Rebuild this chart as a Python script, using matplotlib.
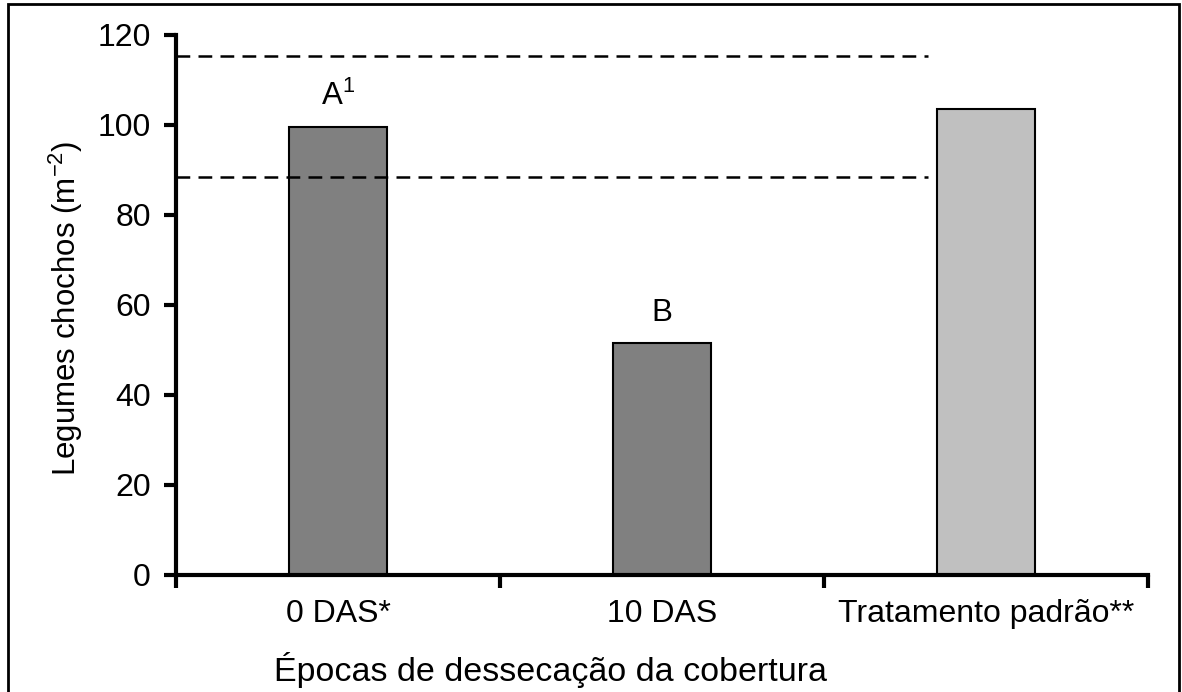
import matplotlib
matplotlib.use('Agg')
import matplotlib.pyplot as plt
from matplotlib.patches import Rectangle

plt.rcParams['font.family'] = ['Liberation Sans', 'DejaVu Sans']
plt.rcParams['mathtext.fontset'] = 'custom'
plt.rcParams['mathtext.rm'] = 'Liberation Sans'
plt.rcParams['mathtext.default'] = 'regular'

categorias = ['0 DAS*', '10 DAS', 'Tratamento padrão**']
valores = [99.6, 51.6, 103.6]
cores = ['#808080', '#808080', '#c0c0c0']
letras = ['A$^1$', 'B', '']
limite_sup = 115.3
limite_inf = 88.5

fig = plt.figure(figsize=(11.82, 6.92), dpi=100)
ax = fig.add_axes([176 / 1182, 117 / 692, 972 / 1182, 540 / 692])

x = list(range(len(categorias)))
ax.bar(x, valores, width=0.3, color=cores, edgecolor='black', linewidth=1.5, zorder=2)

# linhas tracejadas (intervalo de referencia)
ax.hlines([limite_sup, limite_inf], -0.5, 1.82, colors='black', linestyles=(0, (5.5, 3.3)),
          linewidth=1.8, zorder=3)

for xi, v, t in zip(x, valores, letras):
    if t:
        ax.text(xi, v + 4.9, t, ha='center', va='baseline', fontsize=22.5)

ax.set_xlim(-0.5, 2.5)
ax.set_ylim(0, 120)
ax.set_yticks(range(0, 121, 20))
ax.set_xticks([-0.5, 0.5, 1.5, 2.5])
ax.set_xticklabels([])
ax.set_xticks(x, minor=True)
ax.set_xticklabels(categorias, minor=True, fontsize=23)
ax.tick_params(axis='x', which='minor', length=0, pad=17)
ax.tick_params(axis='x', which='major', length=9, width=3, direction='out')
ax.tick_params(axis='y', length=9, width=3, direction='out', labelsize=23, pad=9)

for s in ['top', 'right']:
    ax.spines[s].set_visible(False)
for s in ['left', 'bottom']:
    ax.spines[s].set_linewidth(3)

fig.text(66 / 1182, 1 - 308 / 692, 'Legumes chochos (m$^{-2}$)', rotation=90, ha='center', va='center',
         fontsize=22.5)
fig.text(551 / 1182, 1 - 681 / 692, 'Épocas de dessecação da cobertura', ha='center', va='baseline',
         fontsize=24.5)

fig.patches.append(Rectangle((8 / 1182, -0.05), 1171 / 1182, 1.05 - 4 / 692, transform=fig.transFigure,
                             fill=False, edgecolor='black', linewidth=2))

fig.savefig('out.png', dpi=100)
